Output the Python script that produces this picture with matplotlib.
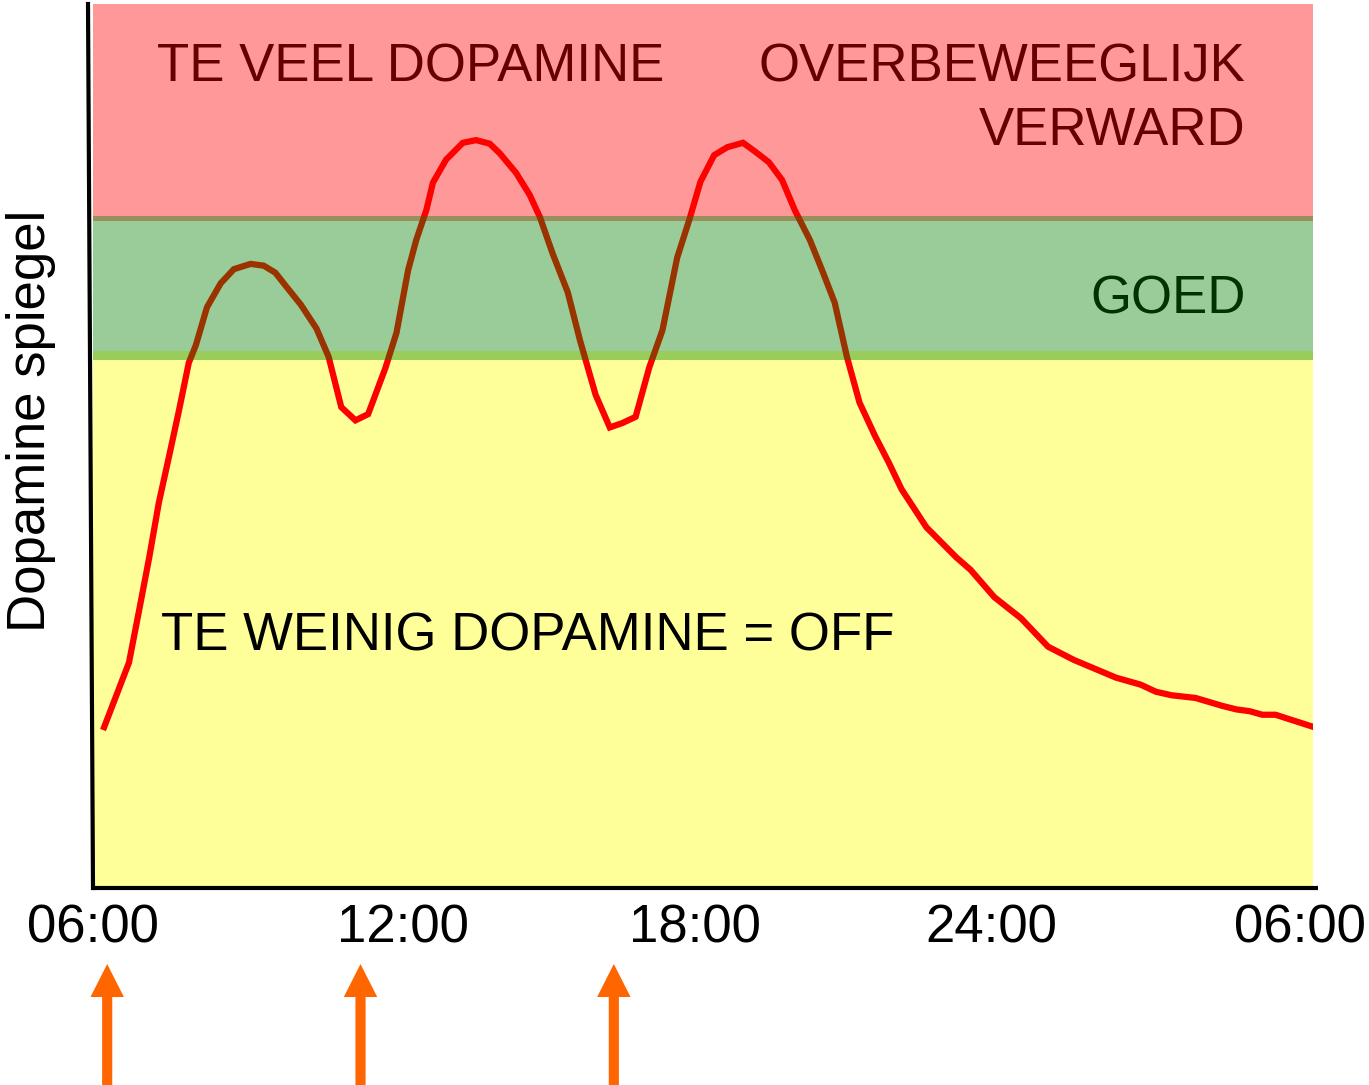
import matplotlib.pyplot as plt
from matplotlib.lines import Line2D
from matplotlib.patches import FancyArrow
from matplotlib.transforms import blended_transform_factory

# dopamine level over a day (hours since midnight, level 0..100)
hours = [5.94, 6.43, 6.63, 6.83, 7.02, 7.22, 7.42, 7.61, 7.75, 7.97,
         8.24, 8.50, 8.83, 9.09, 9.32, 9.54, 9.82, 10.13, 10.37, 10.62,
         10.90, 11.15, 11.49, 11.71, 11.94, 12.10, 12.30, 12.43, 12.69, 13.02,
         13.28, 13.55, 13.75, 14.07, 14.34, 14.54, 14.79, 15.09, 15.33, 15.64,
         15.92, 16.17, 16.43, 16.70, 16.96, 17.25, 17.49, 17.71, 17.98, 18.24,
         18.55, 18.79, 19.06, 19.32, 19.57, 19.87, 20.11, 20.36, 20.60, 20.85,
         21.15, 21.42, 21.68, 22.17, 22.76, 23.04, 23.51, 24.04, 24.57, 25.08,
         25.91, 26.40, 26.70, 27.01, 27.48, 28.01, 28.29, 28.55, 28.80, 29.06,
         29.33, 29.82]
level = [18.2, 25.5, 31.4, 37.4, 43.6, 48.8, 54.1, 59.4, 61.4, 65.7,
         68.4, 70.0, 70.6, 70.4, 69.6, 68.0, 66.0, 63.3, 60.1, 54.4,
         52.9, 53.6, 58.8, 62.8, 69.9, 73.3, 76.7, 79.8, 82.4, 84.3,
         84.6, 84.2, 83.1, 80.9, 78.4, 75.9, 71.8, 67.4, 62.0, 55.8,
         52.1, 52.6, 53.3, 58.9, 63.1, 71.3, 75.6, 79.9, 82.9, 83.8,
         84.3, 83.3, 82.1, 80.1, 76.7, 73.3, 69.9, 66.2, 60.1, 54.9,
         51.2, 48.2, 45.1, 40.8, 37.4, 36.0, 32.9, 30.5, 27.3, 25.8,
         23.8, 23.0, 22.2, 21.8, 21.5, 20.6, 20.2, 20.0, 19.6, 19.6,
         19.1, 18.2]

# zones
too_much = (75.45, 100)
good = (59.73, 76.0)
too_little = (0, 60.75)

# medication moments
pill_hours = [6, 11, 16]

tick_labels = ['06:00', '12:00', '18:00', '24:00', '06:00']
tick_pos = [5.72, 11.84, 17.61, 23.45, 29.55]

FONT = ['Liberation Sans', 'DejaVu Sans']
plt.rcParams['font.family'] = FONT

fig = plt.figure(figsize=(13.69, 10.85), dpi=100)
ax = fig.add_axes([93 / 1369, 197 / 1085, 1220 / 1369, 884 / 1085])
ax.set_xlim(5.80, 29.80)
ax.set_ylim(0, 100)

ax.axhspan(*too_much, color='#ff9999', lw=0, zorder=0)
ax.axhspan(*too_little, color='#ffff99', lw=0, zorder=0)
ax.plot(hours, level, color='#ff0000', lw=4.5, zorder=2, solid_joinstyle='miter')
# green zone sits on top, semi transparent
ax.axhspan(*good, color=(0, 0.5, 0), alpha=0.4, lw=0, zorder=3)

fs = 38
ax.text(6.98, 91.2, 'TE VEEL DOPAMINE', color='#660000', fontsize=fs, zorder=4)
ax.text(28.47, 91.2, 'OVERBEWEEGLIJK', color='#660000', fontsize=fs, ha='right', zorder=4)
ax.text(28.47, 84.0, 'VERWARD', color='#660000', fontsize=fs, ha='right', zorder=4)
ax.text(28.47, 65.0, 'GOED', color='#003300', fontsize=fs, ha='right', zorder=4)
ax.text(7.06, 26.9, 'TE WEINIG DOPAMINE = OFF', color='black', fontsize=fs, zorder=4)

fig.text(31 / 1369, 1 - 421 / 1085, 'Dopamine spiegel', rotation=90,
         ha='center', va='center', fontsize=fs)

# axes lines, left one slightly slanted
for s in ax.spines.values():
    s.set_visible(False)
ax.add_line(Line2D([-5 / 1220, 0], [1, 0], transform=ax.transAxes, color='black',
                   lw=3, clip_on=False, zorder=5))
ax.add_line(Line2D([0, 1.004], [0, 0], transform=ax.transAxes, color='black',
                   lw=3, clip_on=False, zorder=5, solid_capstyle='butt'))

ax.set_yticks([])
ax.set_xticks(tick_pos)
ax.set_xticklabels(tick_labels, fontsize=fs)
ax.tick_params(axis='x', length=0, pad=11)

# arrows below the axis
trans = blended_transform_factory(ax.transData, fig.dpi_scale_trans)
for h in pill_hours:
    ax.add_patch(FancyArrow(h, 0, 0, 1.21, width=0.2, head_width=0.66, head_length=0.33,
                            length_includes_head=True, color='#ff6600', lw=0,
                            transform=trans, clip_on=False))

fig.savefig('out.png', dpi=100)
